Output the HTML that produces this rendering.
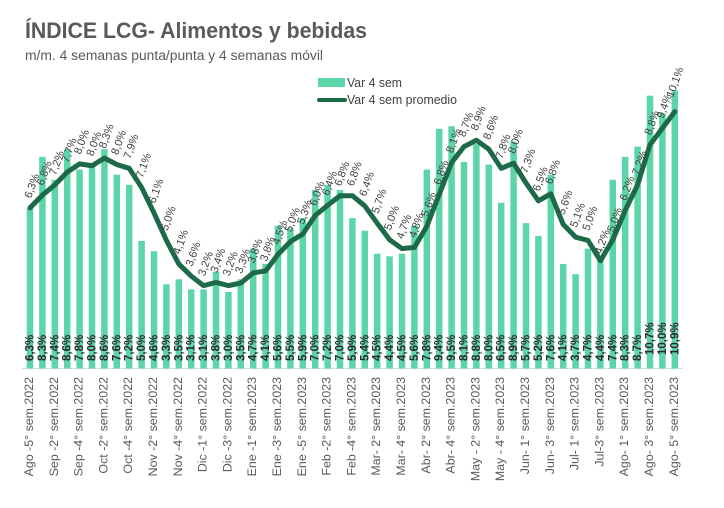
<!DOCTYPE html>
<html><head><meta charset="utf-8"><style>
html,body{margin:0;padding:0;background:#fff;}
svg{display:block;}
.ll{font-family:"Liberation Sans",sans-serif;font-size:11px;fill:#404040;}
.bl{font-family:"Liberation Sans",sans-serif;font-size:11.5px;font-weight:bold;fill:#2a2a2a;}
.xl{font-family:"Liberation Sans",sans-serif;font-size:12.4px;fill:#595959;}
</style></head><body>
<svg width="724" height="508" viewBox="0 0 724 508" xmlns="http://www.w3.org/2000/svg">
<rect width="724" height="508" fill="#fff"/>
<text x="25" y="38" font-family="Liberation Sans, sans-serif" font-size="22" font-weight="bold" fill="#5a5a5a" textLength="342" lengthAdjust="spacingAndGlyphs">ÍNDICE LCG- Alimentos y bebidas</text>
<text x="25" y="60" font-family="Liberation Sans, sans-serif" font-size="13.5" fill="#595959" textLength="298" lengthAdjust="spacingAndGlyphs">m/m. 4 semanas punta/punta y 4 semanas móvil</text>
<rect x="318" y="78" width="27" height="9" fill="#5cd6a9"/>
<text x="347" y="87" font-family="Liberation Sans, sans-serif" font-size="12.5" fill="#404040" textLength="55" lengthAdjust="spacingAndGlyphs">Var 4 sem</text>
<line x1="319" y1="100" x2="345" y2="100" stroke="#1d6a48" stroke-width="4" stroke-linecap="round"/>
<text x="347" y="104" font-family="Liberation Sans, sans-serif" font-size="12.5" fill="#404040" textLength="110" lengthAdjust="spacingAndGlyphs">Var 4 sem promedio</text>

<line x1="22" y1="368.5" x2="683" y2="368.5" stroke="#d9d9d9" stroke-width="1"/>

<g transform="translate(0.25,368.5) scale(1,-25.5)" fill="#5cd6a9">
<rect x="26.5" y="0" width="6.5" height="6.3"/>
<rect x="38.9" y="0" width="6.5" height="8.3"/>
<rect x="51.3" y="0" width="6.5" height="7.4"/>
<rect x="63.7" y="0" width="6.5" height="8.6"/>
<rect x="76.1" y="0" width="6.5" height="7.8"/>
<rect x="88.5" y="0" width="6.5" height="8.0"/>
<rect x="100.9" y="0" width="6.5" height="8.6"/>
<rect x="113.3" y="0" width="6.5" height="7.6"/>
<rect x="125.7" y="0" width="6.5" height="7.2"/>
<rect x="138.1" y="0" width="6.5" height="5.0"/>
<rect x="150.5" y="0" width="6.5" height="4.6"/>
<rect x="162.9" y="0" width="6.5" height="3.3"/>
<rect x="175.3" y="0" width="6.5" height="3.5"/>
<rect x="187.7" y="0" width="6.5" height="3.1"/>
<rect x="200.1" y="0" width="6.5" height="3.1"/>
<rect x="212.5" y="0" width="6.5" height="3.8"/>
<rect x="224.9" y="0" width="6.5" height="3.0"/>
<rect x="237.3" y="0" width="6.5" height="3.5"/>
<rect x="249.7" y="0" width="6.5" height="4.7"/>
<rect x="262.1" y="0" width="6.5" height="4.1"/>
<rect x="274.5" y="0" width="6.5" height="5.6"/>
<rect x="286.9" y="0" width="6.5" height="5.5"/>
<rect x="299.3" y="0" width="6.5" height="5.9"/>
<rect x="311.7" y="0" width="6.5" height="7.0"/>
<rect x="324.1" y="0" width="6.5" height="7.2"/>
<rect x="336.5" y="0" width="6.5" height="7.0"/>
<rect x="348.9" y="0" width="6.5" height="5.9"/>
<rect x="361.3" y="0" width="6.5" height="5.4"/>
<rect x="373.7" y="0" width="6.5" height="4.5"/>
<rect x="386.1" y="0" width="6.5" height="4.4"/>
<rect x="398.5" y="0" width="6.5" height="4.5"/>
<rect x="410.9" y="0" width="6.5" height="5.6"/>
<rect x="423.3" y="0" width="6.5" height="7.8"/>
<rect x="435.7" y="0" width="6.5" height="9.4"/>
<rect x="448.1" y="0" width="6.5" height="9.5"/>
<rect x="460.5" y="0" width="6.5" height="8.1"/>
<rect x="472.9" y="0" width="6.5" height="8.8"/>
<rect x="485.3" y="0" width="6.5" height="8.0"/>
<rect x="497.7" y="0" width="6.5" height="6.5"/>
<rect x="510.1" y="0" width="6.5" height="8.9"/>
<rect x="522.5" y="0" width="6.5" height="5.7"/>
<rect x="534.9" y="0" width="6.5" height="5.2"/>
<rect x="547.3" y="0" width="6.5" height="7.6"/>
<rect x="559.7" y="0" width="6.5" height="4.1"/>
<rect x="572.1" y="0" width="6.5" height="3.7"/>
<rect x="584.5" y="0" width="6.5" height="4.7"/>
<rect x="596.9" y="0" width="6.5" height="4.4"/>
<rect x="609.3" y="0" width="6.5" height="7.4"/>
<rect x="621.7" y="0" width="6.5" height="8.3"/>
<rect x="634.1" y="0" width="6.5" height="8.7"/>
<rect x="646.5" y="0" width="6.5" height="10.7"/>
<rect x="658.9" y="0" width="6.5" height="10.0"/>
<rect x="671.3" y="0" width="6.5" height="10.9"/>
</g>
<g transform="translate(0,368.5) scale(1,-25.5)">
<polyline fill="none" stroke="#1d6a48" stroke-width="5" stroke-linejoin="round" stroke-linecap="round" vector-effect="non-scaling-stroke" points="30,6.3 42.4,6.8 54.8,7.2 67.2,7.7 79.6,8.025 92,7.95 104.4,8.25 116.8,8 129.2,7.85 141.6,7.1 154,6.1 166.4,5.025 178.8,4.1 191.2,3.625 203.6,3.25 216,3.375 228.4,3.25 240.8,3.35 253.2,3.75 265.6,3.825 278,4.475 290.4,4.975 302.8,5.275 315.2,6 327.6,6.4 340,6.775 352.4,6.775 364.8,6.375 377.2,5.7 389.6,5.05 402,4.7 414.4,4.75 426.8,5.575 439.2,6.825 451.6,8.075 464,8.7 476.4,8.95 488.8,8.6 501.2,7.85 513.6,8.05 526,7.275 538.4,6.575 550.8,6.85 563.2,5.65 575.6,5.15 588,5.025 600.4,4.225 612.8,5.05 625.2,6.2 637.6,7.2 650,8.775 662.4,9.425 674.8,10.075"/>
</g>

<g transform="translate(3.5,361)" class="bl">
<text transform="translate(30,0) rotate(-90)">6,3%</text>
<text transform="translate(42.4,0) rotate(-90)">8,3%</text>
<text transform="translate(54.8,0) rotate(-90)">7,4%</text>
<text transform="translate(67.2,0) rotate(-90)">8,6%</text>
<text transform="translate(79.6,0) rotate(-90)">7,8%</text>
<text transform="translate(92,0) rotate(-90)">8,0%</text>
<text transform="translate(104.4,0) rotate(-90)">8,6%</text>
<text transform="translate(116.8,0) rotate(-90)">7,6%</text>
<text transform="translate(129.2,0) rotate(-90)">7,2%</text>
<text transform="translate(141.6,0) rotate(-90)">5,0%</text>
<text transform="translate(154,0) rotate(-90)">4,6%</text>
<text transform="translate(166.4,0) rotate(-90)">3,3%</text>
<text transform="translate(178.8,0) rotate(-90)">3,5%</text>
<text transform="translate(191.2,0) rotate(-90)">3,1%</text>
<text transform="translate(203.6,0) rotate(-90)">3,1%</text>
<text transform="translate(216,0) rotate(-90)">3,8%</text>
<text transform="translate(228.4,0) rotate(-90)">3,0%</text>
<text transform="translate(240.8,0) rotate(-90)">3,5%</text>
<text transform="translate(253.2,0) rotate(-90)">4,7%</text>
<text transform="translate(265.6,0) rotate(-90)">4,1%</text>
<text transform="translate(278,0) rotate(-90)">5,6%</text>
<text transform="translate(290.4,0) rotate(-90)">5,5%</text>
<text transform="translate(302.8,0) rotate(-90)">5,9%</text>
<text transform="translate(315.2,0) rotate(-90)">7,0%</text>
<text transform="translate(327.6,0) rotate(-90)">7,2%</text>
<text transform="translate(340,0) rotate(-90)">7,0%</text>
<text transform="translate(352.4,0) rotate(-90)">5,9%</text>
<text transform="translate(364.8,0) rotate(-90)">5,4%</text>
<text transform="translate(377.2,0) rotate(-90)">4,5%</text>
<text transform="translate(389.6,0) rotate(-90)">4,4%</text>
<text transform="translate(402,0) rotate(-90)">4,5%</text>
<text transform="translate(414.4,0) rotate(-90)">5,6%</text>
<text transform="translate(426.8,0) rotate(-90)">7,8%</text>
<text transform="translate(439.2,0) rotate(-90)">9,4%</text>
<text transform="translate(451.6,0) rotate(-90)">9,5%</text>
<text transform="translate(464,0) rotate(-90)">8,1%</text>
<text transform="translate(476.4,0) rotate(-90)">8,8%</text>
<text transform="translate(488.8,0) rotate(-90)">8,0%</text>
<text transform="translate(501.2,0) rotate(-90)">6,5%</text>
<text transform="translate(513.6,0) rotate(-90)">8,9%</text>
<text transform="translate(526,0) rotate(-90)">5,7%</text>
<text transform="translate(538.4,0) rotate(-90)">5,2%</text>
<text transform="translate(550.8,0) rotate(-90)">7,6%</text>
<text transform="translate(563.2,0) rotate(-90)">4,1%</text>
<text transform="translate(575.6,0) rotate(-90)">3,7%</text>
<text transform="translate(588,0) rotate(-90)">4,7%</text>
<text transform="translate(600.4,0) rotate(-90)">4,4%</text>
<text transform="translate(612.8,0) rotate(-90)">7,4%</text>
<text transform="translate(625.2,0) rotate(-90)">8,3%</text>
<text transform="translate(637.6,0) rotate(-90)">8,7%</text>
<text transform="translate(650,-6) rotate(-90)">10,7%</text>
<text transform="translate(662.4,-6) rotate(-90)">10,0%</text>
<text transform="translate(674.8,-6) rotate(-90)">10,9%</text>
</g>

<g transform="translate(1,0)" class="ll">
<text transform="translate(30,198.85) rotate(-70)">6,3%</text>
<text transform="translate(42.4,186.1) rotate(-70)">6,8%</text>
<text transform="translate(54.8,175.9) rotate(-70)">7,2%</text>
<text transform="translate(67.2,163.15) rotate(-70)">7,7%</text>
<text transform="translate(79.6,154.86) rotate(-70)">8,0%</text>
<text transform="translate(92,156.77) rotate(-70)">8,0%</text>
<text transform="translate(104.4,149.12) rotate(-70)">8,3%</text>
<text transform="translate(116.8,155.5) rotate(-70)">8,0%</text>
<text transform="translate(129.2,159.32) rotate(-70)">7,9%</text>
<text transform="translate(141.6,178.45) rotate(-70)">7,1%</text>
<text transform="translate(154,203.95) rotate(-70)">6,1%</text>
<text transform="translate(166.4,231.36) rotate(-70)">5,0%</text>
<text transform="translate(178.8,254.95) rotate(-70)">4,1%</text>
<text transform="translate(191.2,267.06) rotate(-70)">3,6%</text>
<text transform="translate(203.6,276.62) rotate(-70)">3,2%</text>
<text transform="translate(216,273.44) rotate(-70)">3,4%</text>
<text transform="translate(228.4,276.62) rotate(-70)">3,2%</text>
<text transform="translate(240.8,274.07) rotate(-70)">3,3%</text>
<text transform="translate(253.2,263.87) rotate(-70)">3,8%</text>
<text transform="translate(265.6,261.96) rotate(-70)">3,8%</text>
<text transform="translate(278,245.39) rotate(-70)">4,5%</text>
<text transform="translate(290.4,232.64) rotate(-70)">5,0%</text>
<text transform="translate(302.8,224.99) rotate(-70)">5,3%</text>
<text transform="translate(315.2,206.5) rotate(-70)">6,0%</text>
<text transform="translate(327.6,196.3) rotate(-70)">6,4%</text>
<text transform="translate(340,186.74) rotate(-70)">6,8%</text>
<text transform="translate(352.4,186.74) rotate(-70)">6,8%</text>
<text transform="translate(364.8,196.94) rotate(-70)">6,4%</text>
<text transform="translate(377.2,214.15) rotate(-70)">5,7%</text>
<text transform="translate(389.6,230.72) rotate(-70)">5,0%</text>
<text transform="translate(402,239.65) rotate(-70)">4,7%</text>
<text transform="translate(414.4,238.37) rotate(-70)">4,8%</text>
<text transform="translate(426.8,217.34) rotate(-70)">5,6%</text>
<text transform="translate(439.2,185.46) rotate(-70)">6,8%</text>
<text transform="translate(451.6,153.59) rotate(-70)">8,1%</text>
<text transform="translate(464,137.65) rotate(-70)">8,7%</text>
<text transform="translate(476.4,131.27) rotate(-70)">8,9%</text>
<text transform="translate(488.8,140.2) rotate(-70)">8,6%</text>
<text transform="translate(501.2,159.32) rotate(-70)">7,8%</text>
<text transform="translate(513.6,154.22) rotate(-70)">8,0%</text>
<text transform="translate(526,173.99) rotate(-70)">7,3%</text>
<text transform="translate(538.4,191.84) rotate(-70)">6,5%</text>
<text transform="translate(550.8,184.82) rotate(-70)">6,8%</text>
<text transform="translate(563.2,215.42) rotate(-70)">5,6%</text>
<text transform="translate(575.6,228.17) rotate(-70)">5,1%</text>
<text transform="translate(588,231.36) rotate(-70)">5,0%</text>
<text transform="translate(600.4,254.76) rotate(-70)">4,2%</text>
<text transform="translate(612.8,232.72) rotate(-70)">5,0%</text>
<text transform="translate(625.2,201.4) rotate(-70)">6,2%</text>
<text transform="translate(637.6,175.9) rotate(-70)">7,2%</text>
<text transform="translate(650,135.74) rotate(-70)">8,8%</text>
<text transform="translate(662.4,119.16) rotate(-70)">9,4%</text>
<text transform="translate(672,98) rotate(-70)">10,1%</text>
</g>

<g transform="translate(3,377)" class="xl" text-anchor="end">
<text transform="translate(30,0) rotate(-90)">Ago -5° sem.2022</text>
<text transform="translate(54.8,0) rotate(-90)">Sep -2° sem.2022</text>
<text transform="translate(79.6,0) rotate(-90)">Sep -4° sem.2022</text>
<text transform="translate(104.4,0) rotate(-90)">Oct -2° sem.2022</text>
<text transform="translate(129.2,0) rotate(-90)">Oct -4° sem.2022</text>
<text transform="translate(154,0) rotate(-90)">Nov -2° sem.2022</text>
<text transform="translate(178.8,0) rotate(-90)">Nov -4° sem.2022</text>
<text transform="translate(203.6,0) rotate(-90)">Dic -1° sem.2022</text>
<text transform="translate(228.4,0) rotate(-90)">Dic -3° sem.2022</text>
<text transform="translate(253.2,0) rotate(-90)">Ene -1° sem.2023</text>
<text transform="translate(278,0) rotate(-90)">Ene -3° sem.2023</text>
<text transform="translate(302.8,0) rotate(-90)">Ene -5° sem.2023</text>
<text transform="translate(327.6,0) rotate(-90)">Feb -2° sem.2023</text>
<text transform="translate(352.4,0) rotate(-90)">Feb -4° sem.2023</text>
<text transform="translate(377.2,0) rotate(-90)">Mar- 2° sem.2023</text>
<text transform="translate(402,0) rotate(-90)">Mar- 4° sem.2023</text>
<text transform="translate(426.8,0) rotate(-90)">Abr- 2° sem.2023</text>
<text transform="translate(451.6,0) rotate(-90)">Abr- 4° sem.2023</text>
<text transform="translate(476.4,0) rotate(-90)">May - 2° sem.2023</text>
<text transform="translate(501.2,0) rotate(-90)">May - 4° sem.2023</text>
<text transform="translate(526,0) rotate(-90)">Jun- 1° sem.2023</text>
<text transform="translate(550.8,0) rotate(-90)">Jun- 3° sem.2023</text>
<text transform="translate(575.6,0) rotate(-90)">Jul- 1° sem.2023</text>
<text transform="translate(600.4,0) rotate(-90)">Jul-3° sem.2023</text>
<text transform="translate(625.2,0) rotate(-90)">Ago- 1° sem.2023</text>
<text transform="translate(650,0) rotate(-90)">Ago- 3° sem.2023</text>
<text transform="translate(674.8,0) rotate(-90)">Ago- 5° sem.2023</text>
</g>
</svg>
</body></html>
